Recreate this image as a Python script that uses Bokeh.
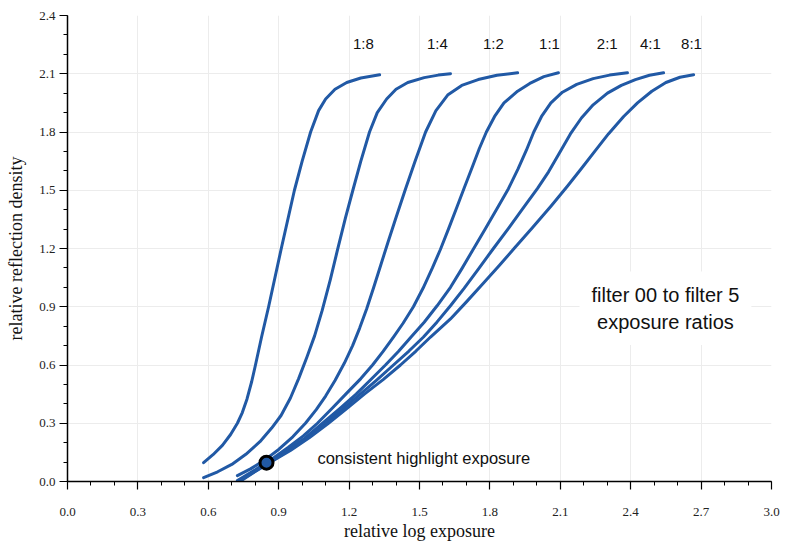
from bokeh.plotting import figure
from bokeh.models import Range1d, SingleIntervalTicker, Label, ColumnDataSource, PrintfTickFormatter
from bokeh.core.properties import value
from bokeh.embed import file_html
from bokeh.resources import INLINE

# ---- data ----
ratios = ["1:8", "1:4", "1:2", "1:1", "2:1", "4:1", "8:1"]
label_x = [1.261, 1.576, 1.815, 2.054, 2.300, 2.484, 2.659]
label_y = [2.257, 2.257, 2.257, 2.257, 2.257, 2.257, 2.257]

exp_1_8 = [0.580, 0.620, 0.660, 0.695, 0.724, 0.745, 0.765, 0.785, 0.801, 0.827, 0.857, 0.911,
           0.967, 1.000, 1.036, 1.070, 1.100, 1.140, 1.190, 1.250, 1.330]
den_1_8 = [0.097, 0.138, 0.186, 0.242, 0.300, 0.355, 0.425, 0.515, 0.600, 0.744, 0.900, 1.200,
           1.500, 1.650, 1.800, 1.910, 1.970, 2.020, 2.055, 2.078, 2.095]

exp_1_4 = [0.580, 0.640, 0.700, 0.760, 0.820, 0.870, 0.910, 0.950, 0.985, 1.020, 1.053, 1.085,
           1.120, 1.150, 1.185, 1.216, 1.250, 1.287, 1.320, 1.360, 1.400, 1.450, 1.520, 1.580, 1.632]
den_1_4 = [0.020, 0.050, 0.088, 0.140, 0.205, 0.275, 0.340, 0.430, 0.530, 0.640, 0.750, 0.880,
           1.040, 1.190, 1.360, 1.500, 1.650, 1.800, 1.900, 1.970, 2.020, 2.055, 2.080, 2.093, 2.100]

exp_1_2 = [0.724, 0.780, 0.840, 0.900, 0.960, 1.014, 1.060, 1.100, 1.140, 1.180, 1.215, 1.245,
           1.275, 1.305, 1.335, 1.365, 1.400, 1.440, 1.480, 1.526, 1.570, 1.620, 1.680, 1.750,
           1.830, 1.918]
den_1_2 = [0.030, 0.065, 0.110, 0.165, 0.230, 0.300, 0.370, 0.440, 0.520, 0.610, 0.700, 0.790,
           0.890, 1.000, 1.115, 1.230, 1.360, 1.505, 1.645, 1.800, 1.910, 1.990, 2.040, 2.070,
           2.092, 2.105]

exp_1_1 = [0.724, 0.800, 0.870, 0.940, 1.005, 1.065, 1.130, 1.190, 1.250, 1.300, 1.345, 1.389,
           1.430, 1.474, 1.515, 1.555, 1.589, 1.625, 1.660, 1.690, 1.725, 1.755, 1.785, 1.820,
           1.860, 1.918, 1.970, 2.030, 2.092]
den_1_1 = [0.005, 0.060, 0.115, 0.175, 0.235, 0.300, 0.380, 0.455, 0.530, 0.600, 0.670, 0.744,
           0.815, 0.900, 0.995, 1.100, 1.195, 1.305, 1.415, 1.510, 1.620, 1.715, 1.800, 1.880,
           1.950, 2.010, 2.050, 2.085, 2.105]

exp_2_1 = [0.729, 0.800, 0.870, 0.940, 1.010, 1.087, 1.160, 1.230, 1.295, 1.355, 1.410, 1.465,
           1.520, 1.575, 1.632, 1.680, 1.731, 1.780, 1.830, 1.879, 1.920, 1.955, 1.987, 2.020,
           2.060, 2.109, 2.170, 2.240, 2.310, 2.386]
den_2_1 = [0.000, 0.055, 0.108, 0.163, 0.222, 0.300, 0.375, 0.450, 0.528, 0.600, 0.670, 0.745,
           0.820, 0.905, 1.000, 1.095, 1.200, 1.300, 1.405, 1.508, 1.610, 1.705, 1.800, 1.880,
           1.950, 2.005, 2.045, 2.075, 2.093, 2.105]

exp_4_1 = [0.730, 0.800, 0.870, 0.940, 1.020, 1.099, 1.170, 1.240, 1.315, 1.389, 1.455, 1.517,
           1.575, 1.632, 1.690, 1.750, 1.815, 1.880, 1.940, 2.003, 2.050, 2.100, 2.143, 2.190,
           2.240, 2.301, 2.360, 2.420, 2.480, 2.540]
den_4_1 = [0.000, 0.053, 0.105, 0.158, 0.222, 0.300, 0.370, 0.442, 0.520, 0.600, 0.672, 0.744,
           0.822, 0.905, 0.995, 1.093, 1.200, 1.305, 1.405, 1.510, 1.595, 1.700, 1.790, 1.872,
           1.940, 2.000, 2.040, 2.070, 2.092, 2.105]

exp_8_1 = [0.735, 0.800, 0.870, 0.950, 1.030, 1.112, 1.190, 1.265, 1.345, 1.419, 1.485, 1.547,
           1.632, 1.700, 1.770, 1.840, 1.903, 1.980, 2.060, 2.131, 2.190, 2.250, 2.305, 2.370,
           2.429, 2.490, 2.550, 2.610, 2.668]
den_8_1 = [0.000, 0.052, 0.103, 0.160, 0.225, 0.300, 0.375, 0.450, 0.525, 0.600, 0.672, 0.744,
           0.837, 0.925, 1.018, 1.112, 1.200, 1.305, 1.418, 1.522, 1.612, 1.705, 1.790, 1.880,
           1.950, 2.010, 2.055, 2.082, 2.095]

highlight_x = [0.848]
highlight_y = [0.097]

curves = [(exp_1_8, den_1_8), (exp_1_4, den_1_4), (exp_1_2, den_1_2), (exp_1_1, den_1_1),
          (exp_2_1, den_2_1), (exp_4_1, den_4_1), (exp_8_1, den_8_1)]

BLUE = "#2159a5"
SERIF = "Liberation Serif"
SANS = "Liberation Sans"

p = figure(width=785, height=543, output_backend="svg", toolbar_location=None,
           x_range=Range1d(0, 3.0), y_range=Range1d(0, 2.4),
           min_border_left=67, min_border_right=14, min_border_top=15, min_border_bottom=57)
p.outline_line_color = None
p.background_fill_color = "white"

for ax in (p.xaxis[0], p.yaxis[0]):
    ax.ticker = SingleIntervalTicker(interval=0.3, num_minor_ticks=3)
    ax.formatter = PrintfTickFormatter(format="%.1f")
    ax.axis_line_color = "black"
    ax.axis_line_width = 1.5
    ax.major_tick_line_color = "black"
    ax.minor_tick_line_color = "black"
    ax.major_tick_line_width = 1.2
    ax.minor_tick_line_width = 1.0
    ax.major_tick_out = 8
    ax.major_tick_in = 0
    ax.minor_tick_out = 4
    ax.minor_tick_in = 0
    ax.major_label_text_font = SERIF
    ax.major_label_text_font_size = "13px"
    ax.major_label_text_color = "#222222"
    ax.axis_label_text_font = SERIF
    ax.axis_label_text_font_size = "18px"
    ax.axis_label_text_font_style = "normal"
    ax.axis_label_text_color = "#111111"

p.xaxis.axis_label = "relative log exposure"
p.yaxis.axis_label = "relative reflection density"
p.xaxis.major_label_standoff = 18
p.yaxis.major_label_standoff = 4
p.xaxis.axis_label_standoff = 2
p.yaxis.axis_label_standoff = 10

p.xgrid.ticker = SingleIntervalTicker(interval=0.3)
p.ygrid.ticker = SingleIntervalTicker(interval=0.3)
p.grid.grid_line_color = "#ececec"
p.grid.grid_line_width = 1

for xs, ys in curves:
    p.line(xs, ys, line_color=BLUE, line_width=3, line_cap="round", line_join="round")

p.scatter(highlight_x, highlight_y, size=13, marker="circle", fill_color=BLUE,
          line_color="black", line_width=3)

src = ColumnDataSource(dict(x=label_x, y=label_y, t=ratios))
p.text(x="x", y="y", text="t", source=src, text_font=value(SANS), text_font_size="15px",
       text_align="center", text_baseline="middle", text_color="#111111")

p.text(x=[1.065], y=[0.122], text=["consistent highlight exposure"], text_font=value(SANS),
       text_font_size="16.5px", text_align="left", text_baseline="middle", text_color="#111111")

box = Label(x=2.548, y=0.892, text="filter 00 to filter 5\nexposure ratios",
            text_font=SANS, text_font_size="20px", text_align="center", text_baseline="middle",
            text_color="#111111", background_fill_color="white", padding=12, text_line_height=1.25)
p.add_layout(box)

open("out.html", "w").write(file_html(p, INLINE))
